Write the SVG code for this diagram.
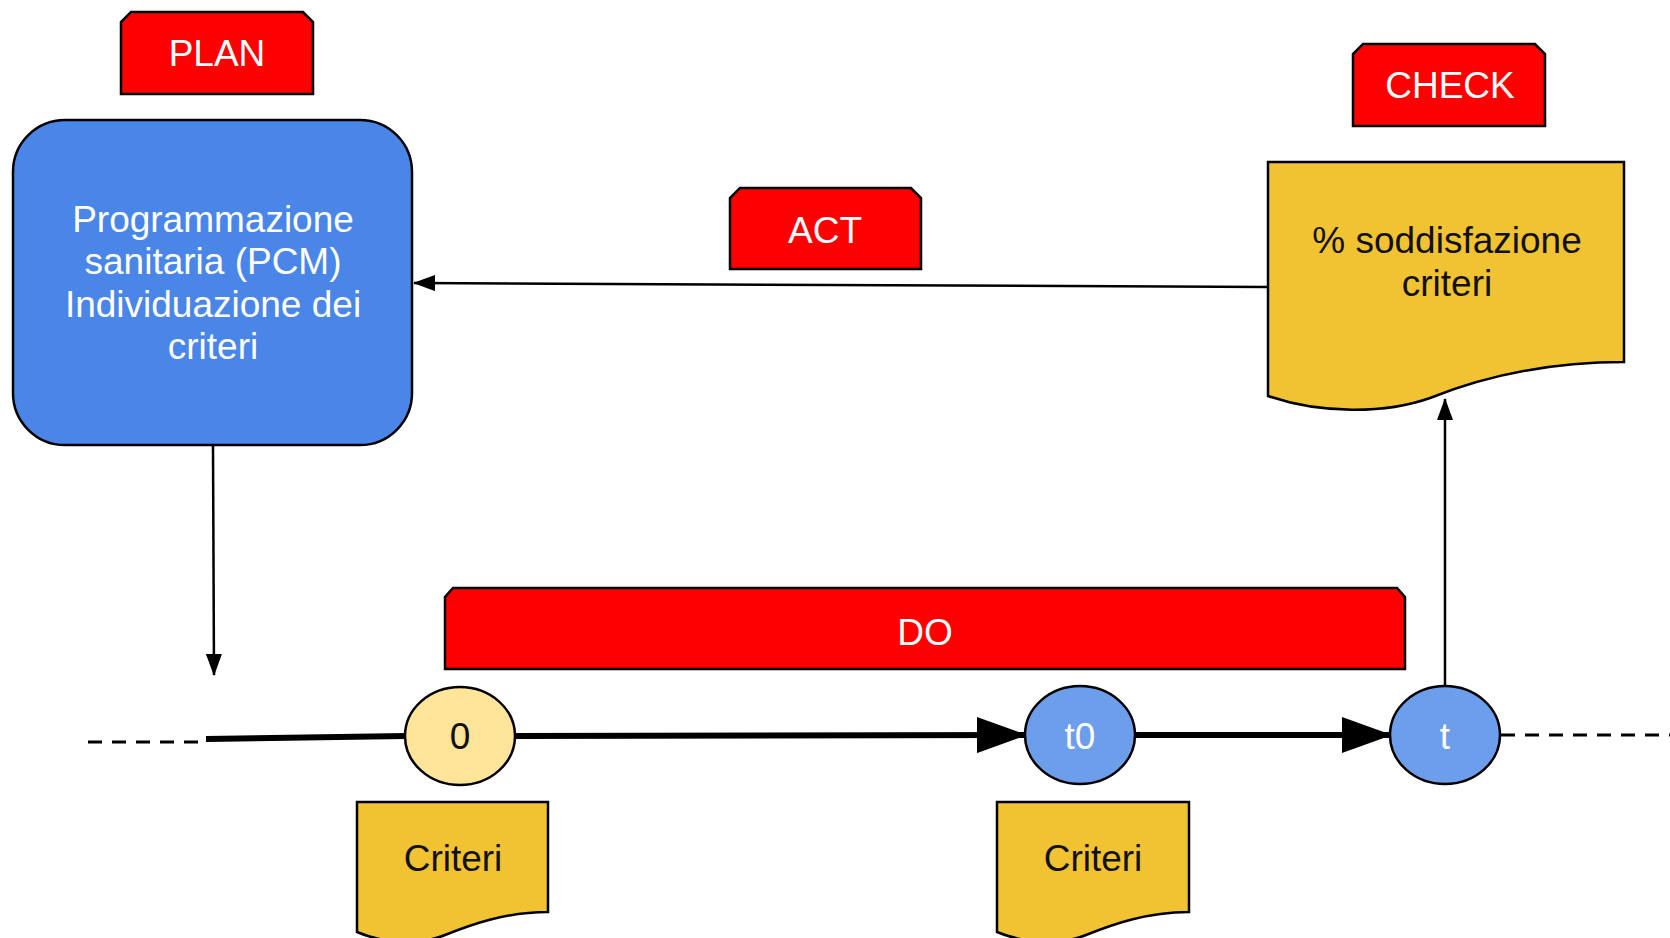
<svg xmlns="http://www.w3.org/2000/svg" width="1670" height="938" viewBox="0 0 1670 938">
  <style>
    text { font-family: "Liberation Sans", Arial, sans-serif; font-size: 37px; text-anchor: middle; }
    .tag { fill: #ff0000; stroke: #000; stroke-width: 2.5; }
    .tag-label { fill: #ffffff; }
    .doc { fill: #f1c232; stroke: #000; stroke-width: 2.5; }
    .dark { fill: #111111; }
    .light { fill: #ffffff; }
    .thin { stroke: #000; stroke-width: 2.5; fill: none; }
    .thick { stroke: #000; stroke-width: 6; fill: none; }
    .dash { stroke: #000; stroke-width: 3; fill: none; stroke-dasharray: 14 10; }
  </style>
  <defs>
    <marker id="head-small" viewBox="0 0 22 16" refX="21" refY="8" markerWidth="22" markerHeight="16" markerUnits="userSpaceOnUse" orient="auto">
      <path d="M0,0 L22,8 L0,16 Z" fill="#000"/>
    </marker>
    <marker id="head-big" viewBox="0 0 50 36" refX="48" refY="18" markerWidth="50" markerHeight="36" markerUnits="userSpaceOnUse" orient="auto">
      <path d="M0,0 L50,18 L0,36 Z" fill="#000"/>
    </marker>
  </defs>

  <rect width="1670" height="938" fill="#ffffff"/>

  <!-- connectors -->
  <g id="connectors">
    <line class="thin" x1="1268" y1="287" x2="414" y2="283" marker-end="url(#head-small)"/>
    <line class="thin" x1="213" y1="446" x2="214" y2="675" marker-end="url(#head-small)"/>
    <line class="thin" x1="1445" y1="688" x2="1445" y2="399" marker-end="url(#head-small)"/>
    <line class="dash" x1="88" y1="742" x2="208" y2="742"/>
    <line class="thick" x1="206" y1="739" x2="406" y2="736"/>
    <line class="thick" x1="515" y1="736" x2="1025" y2="735" marker-end="url(#head-big)"/>
    <line class="thick" x1="1135" y1="735" x2="1390" y2="735" marker-end="url(#head-big)"/>
    <line class="dash" x1="1501" y1="735" x2="1670" y2="735"/>
  </g>

  <!-- PLAN -->
  <g id="plan-tag">
    <path class="tag" d="M121,94 V22 L131,12 H303 L313,22 V94 Z"/>
    <text class="tag-label" x="217" y="66">PLAN</text>
  </g>

  <!-- Planning box -->
  <g id="plan-box">
    <rect x="13" y="120" width="399" height="325" rx="52" ry="52" fill="#4a86e8" stroke="#000" stroke-width="2.5"/>
    <text class="light" x="213" y="232">Programmazione</text>
    <text class="light" x="213" y="274">sanitaria (PCM)</text>
    <text class="light" x="213" y="317">Individuazione dei</text>
    <text class="light" x="213" y="359">criteri</text>
  </g>

  <!-- ACT -->
  <g id="act-tag">
    <path class="tag" d="M730,269 V198 L740,188 H911 L921,198 V269 Z"/>
    <text class="tag-label" x="825" y="243">ACT</text>
  </g>

  <!-- CHECK -->
  <g id="check-tag">
    <path class="tag" d="M1353,126 V54 L1363,44 H1535 L1545,54 V126 Z"/>
    <text class="tag-label" x="1450" y="98">CHECK</text>
  </g>

  <!-- Satisfaction document -->
  <g id="check-doc">
    <path class="doc" d="M1268,162 H1624 V362 C1540,362 1475,380 1430,398 C1385,414 1320,414 1268,396 Z"/>
    <text class="dark" x="1447" y="253">% soddisfazione</text>
    <text class="dark" x="1447" y="296">criteri</text>
  </g>

  <!-- DO -->
  <g id="do-tag">
    <path class="tag" d="M445,669 V597 L453,588 H1397 L1405,597 V669 Z"/>
    <text class="tag-label" x="925" y="645">DO</text>
  </g>

  <!-- Timeline points -->
  <g id="point-0">
    <ellipse cx="460" cy="736" rx="55" ry="49" fill="#ffe599" stroke="#000" stroke-width="2.5"/>
    <text class="dark" x="460" y="749">0</text>
  </g>
  <g id="point-t0">
    <ellipse cx="1080" cy="735" rx="55" ry="49" fill="#6d9eeb" stroke="#000" stroke-width="2.5"/>
    <text class="light" x="1080" y="749">t0</text>
  </g>
  <g id="point-t">
    <ellipse cx="1445" cy="735" rx="55" ry="49" fill="#6d9eeb" stroke="#000" stroke-width="2.5"/>
    <text class="light" x="1445" y="749">t</text>
  </g>

  <!-- Criteria documents -->
  <g id="criteri-0">
    <path class="doc" d="M357,802 H548 V912 C505,912 470,925 445,935 C420,945 385,944 357,932 Z"/>
    <text class="dark" x="453" y="871">Criteri</text>
  </g>
  <g id="criteri-t0">
    <path class="doc" d="M997,802 H1189 V912 C1146,912 1111,925 1086,935 C1061,945 1026,944 997,932 Z"/>
    <text class="dark" x="1093" y="871">Criteri</text>
  </g>
</svg>
